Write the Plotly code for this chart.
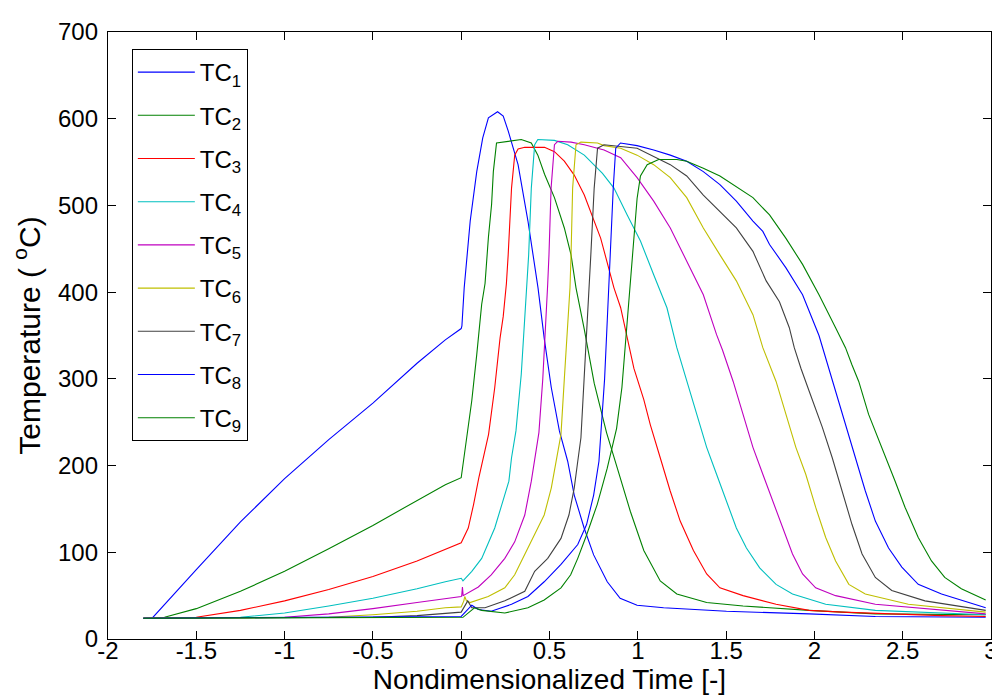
"""
Thermocouple temperature histories vs nondimensionalized time.
MATLAB-style line chart rebuilt with Plotly.
"""

import plotly.graph_objects as go

# ─── Data ────────────────────────────────────────────────────────────────────
TC1_X = [-1.80, -1.75, -1.5, -1.25, -1.0, -0.75, -0.5, -0.25, -0.09, 0.0,
         0.004, 0.017, 0.051, 0.088, 0.122, 0.154, 0.206, 0.238, 0.266, 0.322,
         0.378, 0.435, 0.47, 0.51, 0.556, 0.603, 0.64, 0.696, 0.75, 0.827,
         0.9, 0.996, 1.146, 1.502, 1.97, 2.345, 2.97]
TC1_Y = [24, 24, 80, 135, 185, 230, 272, 318, 345, 358,
         361, 405, 482, 539, 578, 601, 608, 603, 586, 547,
         482, 405, 347, 290, 240, 205, 166, 128, 97, 66,
         47, 39, 36, 32, 29, 26, 25]

TC2_X = [-1.80, -1.68, -1.5, -1.25, -1.0, -0.75, -0.5, -0.25, -0.09, 0.0,
         0.022, 0.041, 0.06, 0.088, 0.116, 0.135, 0.154, 0.172, 0.182, 0.2,
         0.285, 0.34, 0.397, 0.434, 0.472, 0.528, 0.584, 0.622, 0.65, 0.697,
         0.753, 0.823, 0.884, 0.958, 1.034, 1.127, 1.221, 1.39, 1.596, 1.97,
         2.345, 2.97]
TC2_Y = [24, 25, 35, 55, 78, 104, 131, 160, 178, 186,
         218, 245, 275, 328, 386, 410, 463, 501, 539, 572,
         574, 576, 572, 558, 536, 509, 474, 443, 405, 357,
         295, 238, 197, 147, 102, 67, 52, 42, 38, 33,
         29, 28]

TC3_X = [-1.80, -1.5, -1.25, -1.0, -0.75, -0.5, -0.25, -0.09, 0.0, 0.04,
         0.07, 0.1, 0.125, 0.155, 0.19, 0.22, 0.238, 0.256, 0.266,
         0.285, 0.303, 0.322, 0.36, 0.472, 0.528, 0.584, 0.64, 0.697, 0.79,
         0.846, 0.865, 0.903, 0.94, 0.978, 1.034, 1.071, 1.127, 1.183, 1.24,
         1.315, 1.39, 1.465, 1.596, 1.783, 1.97, 2.157, 2.72, 2.97]
TC3_Y = [24, 25, 33, 44, 57, 72, 90, 103, 111, 128,
         155, 186, 210, 236, 290, 347, 372, 410, 443,
         520, 558, 565, 567, 567, 562, 551, 535, 512, 462,
         420, 405, 382, 347, 312, 276, 247, 209, 171, 136,
         102, 75, 59, 50, 40, 33, 31, 27, 26]

TC4_X = [-1.80, -1.25, -1.0, -0.75, -0.5, -0.25, -0.09, 0.0, 0.01, 0.06,
         0.116, 0.15, 0.19, 0.23, 0.27, 0.285, 0.31, 0.34, 0.36, 0.372,
         0.382, 0.397, 0.416, 0.434, 0.528, 0.603, 0.697, 0.8, 0.865, 0.94,
         1.015, 1.09, 1.165, 1.221, 1.277, 1.333, 1.39, 1.446, 1.502, 1.558,
         1.615, 1.69, 1.783, 1.876, 2.064, 2.345, 2.97]
TC4_Y = [24, 25, 30, 38, 47, 58, 66, 70, 67, 78,
         93, 109, 128, 155, 182, 209, 240, 305, 366, 405,
         443, 520, 570, 576, 575, 570, 558, 537, 520, 489,
         459, 420, 382, 336, 297, 259, 221, 190, 159, 128,
         105, 82, 63, 52, 40, 33, 28]

TC5_X = [-1.80, -1.0, -0.75, -0.5, -0.25, -0.09, 0.0, 0.003, 0.007, 0.011,
         0.097, 0.17, 0.247, 0.303, 0.36, 0.397, 0.425, 0.44, 0.462, 0.481,
         0.49, 0.497, 0.509, 0.528, 0.547, 0.622, 0.697, 0.809, 0.903, 0.996,
         1.09, 1.184, 1.277, 1.371, 1.446, 1.48, 1.54, 1.596, 1.652, 1.708,
         1.764, 1.82, 1.876, 1.933, 2.007, 2.12, 2.345, 2.97]
TC5_Y = [24, 25, 29, 35, 42, 47, 49, 50, 60, 50,
         60, 74, 93, 112, 143, 182, 216, 238, 300, 367,
         410, 443, 520, 570, 574, 573, 570, 564, 555, 532,
         505, 474, 436, 397, 351, 333, 297, 259, 221, 190,
         159, 128, 98, 75, 59, 50, 40, 29]

TC6_X = [-1.80, -0.75, -0.5, -0.25, -0.09, 0.0, 0.015, 0.02, 0.03, 0.05,
         0.153, 0.247, 0.303, 0.36, 0.416, 0.47, 0.51, 0.537, 0.565, 0.584,
         0.603, 0.616, 0.622, 0.631, 0.65, 0.678, 0.772, 0.809, 0.903, 0.996,
         1.09, 1.184, 1.277, 1.371, 1.465, 1.558, 1.652, 1.708, 1.783, 1.839,
         1.895, 1.951, 2.007, 2.064, 2.12, 2.195, 2.288, 2.532, 2.97]
TC6_Y = [24, 25, 28, 32, 36, 37, 44, 49, 44, 42,
         49, 59, 74, 97, 120, 143, 174, 205, 236, 300,
         367, 405, 443, 520, 570, 573, 572, 569, 566, 558,
         547, 532, 509, 474, 443, 413, 374, 336, 297, 259,
         221, 190, 152, 117, 90, 63, 52, 40, 31]

TC7_X = [-1.80, -0.5, -0.25, -0.09, 0.0, 0.037, 0.06, 0.135, 0.247, 0.36,
         0.416, 0.49, 0.565, 0.61, 0.64, 0.66, 0.678, 0.696, 0.715, 0.722,
         0.734, 0.753, 0.772, 0.809, 0.996, 1.184, 1.277, 1.371, 1.465, 1.558,
         1.652, 1.727, 1.802, 1.858, 1.886, 1.924, 1.97, 2.045, 2.101, 2.157,
         2.213, 2.27, 2.345, 2.438, 2.626, 2.97]
TC7_Y = [24, 25, 27, 30, 31, 44, 36, 36, 44, 55,
         78, 93, 116, 143, 174, 205, 232, 300, 367, 405,
         443, 520, 566, 570, 566, 547, 534, 512, 493, 474,
         447, 413, 389, 359, 336, 312, 286, 244, 209, 171,
         132, 98, 71, 56, 44, 33]

TC8_X = [-1.80, -0.25, 0.0, 0.06, 0.097, 0.17, 0.285, 0.378, 0.47, 0.565,
         0.66, 0.71, 0.75, 0.78, 0.79, 0.812, 0.827, 0.835, 0.846, 0.861,
         0.875, 0.902, 0.996, 1.09, 1.184, 1.277, 1.371, 1.465, 1.558, 1.652,
         1.708, 1.746, 1.839, 1.933, 2.026, 2.073, 2.101, 2.176, 2.232, 2.288,
         2.345, 2.42, 2.495, 2.588, 2.72, 2.97]
TC8_Y = [24, 25, 26, 39, 34, 32, 40, 49, 66, 86,
         109, 132, 166, 205, 232, 300, 367, 405, 443, 520,
         566, 572, 569, 564, 558, 551, 539, 524, 505, 482,
         470, 455, 428, 397, 350, 318, 297, 247, 209, 171,
         136, 105, 83, 63, 52, 36]

TC9_X = [-1.80, 0.01, 0.075, 0.116, 0.247, 0.378, 0.47, 0.565, 0.62, 0.66,
         0.71, 0.77, 0.827, 0.865, 0.88, 0.91, 0.93, 0.949, 0.977, 0.996,
         1.015, 1.053, 1.118, 1.221, 1.277, 1.371, 1.465, 1.558, 1.652, 1.746,
         1.839, 1.933, 2.026, 2.12, 2.176, 2.213, 2.251, 2.307, 2.382, 2.457,
         2.513, 2.588, 2.663, 2.738, 2.832, 2.97]
TC9_Y = [24, 25, 36, 33, 30, 36, 45, 59, 74, 93,
         120, 155, 197, 228, 243, 290, 340, 385, 460, 508,
         534, 547, 553, 553, 551, 543, 534, 522, 509, 489,
         462, 432, 397, 359, 336, 316, 297, 259, 221, 182,
         152, 117, 90, 71, 58, 45]

SERIES_NAMES = ["TC<sub>%d</sub>" % i for i in range(1, 10)]
SERIES_X = [TC1_X, TC2_X, TC3_X, TC4_X, TC5_X, TC6_X, TC7_X, TC8_X, TC9_X]
SERIES_Y = [TC1_Y, TC2_Y, TC3_Y, TC4_Y, TC5_Y, TC6_Y, TC7_Y, TC8_Y, TC9_Y]

X_TICKS = [-2, -1.5, -1, -0.5, 0, 0.5, 1, 1.5, 2, 2.5, 3]
X_TICK_TEXT = ["-2", "-1.5", "-1", "-0.5", "0", "0.5", "1", "1.5", "2", "2.5", "3"]
Y_TICKS = [0, 100, 200, 300, 400, 500, 600, 700]

# ─── Theme (old MATLAB colour order) ─────────────────────────────────────────
_COLORS = ["#0000ff", "#008000", "#ff0000", "#00bfbf", "#bf00bf",
           "#bfbf00", "#404040", "#0000ff", "#008000"]
_FONT = "Liberation Sans, Arial, Helvetica, sans-serif"
_BLACK = "#000000"


def _axis(**overrides) -> dict:
    """MATLAB-like boxed axis: inward ticks on all four sides."""
    axis = dict(
        showline=True,
        linecolor=_BLACK,
        linewidth=1.3,
        mirror="ticks",
        ticks="inside",
        ticklen=8,
        tickwidth=1,
        tickcolor=_BLACK,
        showgrid=False,
        zeroline=False,
        tickfont=dict(family=_FONT, size=24, color=_BLACK),
    )
    axis.update(overrides)
    return axis


fig = go.Figure()

for name, xs, ys, color in zip(SERIES_NAMES, SERIES_X, SERIES_Y, _COLORS):
    fig.add_trace(go.Scatter(
        name=name,
        x=xs,
        y=ys,
        mode="lines",
        line=dict(color=color, width=1.1),
        legendgroup=name,
    ))

fig.update_layout(
    width=1000,
    height=700,
    paper_bgcolor="white",
    plot_bgcolor="white",
    font=dict(family=_FONT, size=24, color=_BLACK),
    margin=dict(l=100, r=10, t=24, b=69),
    xaxis=_axis(
        range=[-2, 3],
        tickvals=X_TICKS,
        ticktext=X_TICK_TEXT,
        ticklabelstandoff=-10,
        title=dict(text="Nondimensionalized Time [-]", standoff=0,
                   font=dict(family=_FONT, size=28, color=_BLACK)),
    ),
    yaxis=_axis(
        range=[0, 700],
        tickvals=Y_TICKS,
        ticklabelstandoff=4,
        title=dict(text="Temperature ( <sup>o</sup>C)", standoff=14,
                   font=dict(family=_FONT, size=30, color=_BLACK)),
    ),
    legend=dict(
        x=0.027,
        y=0.972,
        xanchor="left",
        yanchor="top",
        bgcolor="white",
        bordercolor=_BLACK,
        borderwidth=1,
        font=dict(family=_FONT, size=24, color=_BLACK),
        itemwidth=57,
        tracegroupgap=9,
    ),
    showlegend=True,
)

fig.write_html("out.html")
